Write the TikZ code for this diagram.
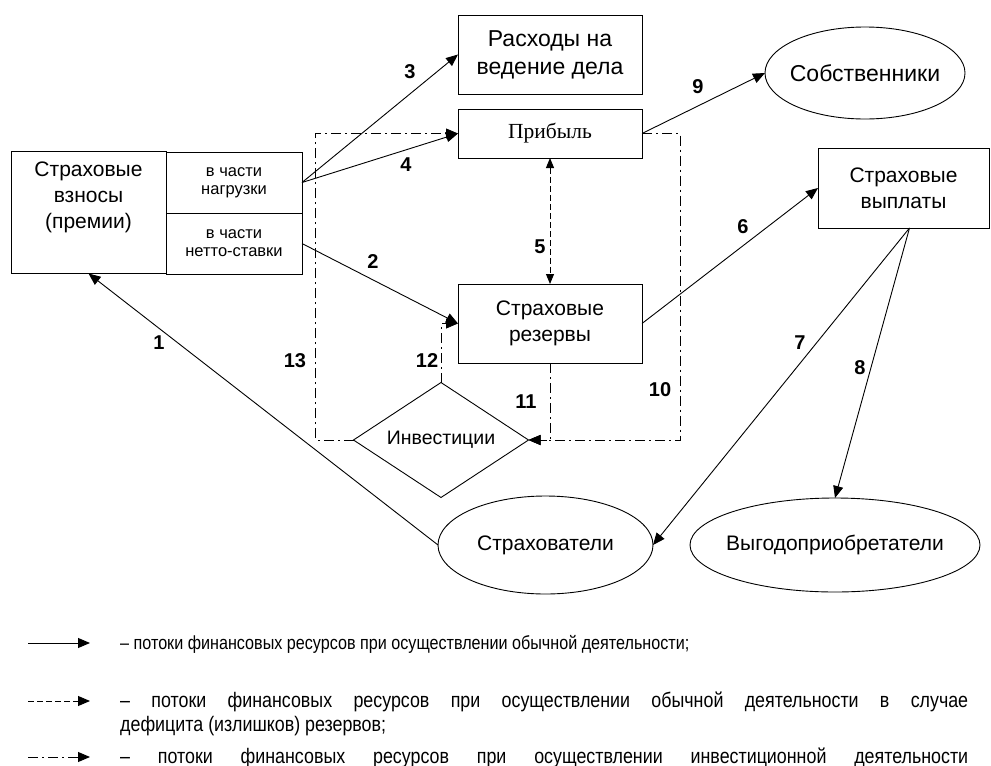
\documentclass[tikz,border=0pt]{standalone}
\usepackage{fontspec}
\setmainfont{Liberation Sans}
\newfontfamily\serifrm{Liberation Serif}
\newfontfamily\legfont{Liberation Sans}[FakeStretch=0.85]
\usetikzlibrary{shapes.geometric,arrows.meta}

\begin{document}
\begin{tikzpicture}[x=1pt,y=-1pt,
    blk/.style={draw,rectangle,inner sep=0pt,outer sep=0pt,line width=0.9pt},
    ell/.style={draw,ellipse,inner sep=0pt,inner xsep=-12pt,outer sep=0pt,line width=0.9pt},
    lbl/.style={font=\fontsize{21}{26}\selectfont,align=center},
    sml/.style={font=\fontsize{16.5}{18}\selectfont,align=center},
    num/.style={font=\bfseries\fontsize{20}{20}\selectfont,inner sep=0pt},
    arr/.style={-{Triangle[length=12pt,width=10pt]},line width=0.9pt},
    dd/.style={dash pattern=on 10pt off 4pt on 2pt off 4pt,line width=0.8pt}]
  \useasboundingbox (0,0) rectangle (991,766);
  \path
    (88.5,212.5) node[blk,minimum width=155pt,minimum height=122pt] (vznosy){}
    (234,182.5) node[blk,minimum width=136pt,minimum height=61pt,sml] (nagr){в части\\нагрузки}
    (234,243.5) node[blk,minimum width=136pt,minimum height=61pt,sml] (netto){в части\\нетто-ставки}
    (550,54.5) node[blk,minimum width=184pt,minimum height=79pt,lbl,font=\fontsize{23}{28}\selectfont] (rashody){Расходы на\\ведение дела}
    (550,133.5) node[blk,minimum width=184pt,minimum height=49pt,font=\serifrm\fontsize{21.5}{22}\selectfont] (pribyl){Прибыль}
    (550,323.5) node[blk,minimum width=184pt,minimum height=79pt,lbl] (rezervy){Страховые\\резервы}
    (903.5,188) node[blk,minimum width=171pt,minimum height=80pt,lbl] (vyplaty){Страховые\\выплаты}
    (865,73) node[ell,minimum width=200pt,minimum height=92pt,lbl,font=\fontsize{23}{26}\selectfont] (sobst){Собственники}
    (545.5,545) node[ell,minimum width=215pt,minimum height=98pt,lbl] (strakh){Страхователи}
    (835,545) node[ell,minimum width=290pt,minimum height=94pt,lbl] (vygodo){Выгодоприобретатели}
    (441,440) node[draw,diamond,aspect=1.52,minimum width=175pt,minimum height=115pt,
      inner sep=0pt,outer sep=0pt,line width=0.9pt,font=\fontsize{19.5}{20}\selectfont] (invest){Инвестиции};
  \node[lbl] (vznosytxt) at (88.5,197) {Страховые\\взносы\\(премии)};
  \coordinate (vypl) at ([xshift=6pt]vyplaty.south);
  % flows of ordinary activity
  \begin{scope}[arr]
    \draw (strakh.west) to (vznosy.south);
    \draw (netto.east) to (rezervy.west);
    \draw (nagr.east) to (rashody.west);
    \draw (nagr.east) to (pribyl.west);
    \draw (rezervy.east) to (vyplaty.west);
    \draw (vypl) to (strakh.east);
    \draw (vypl) to (vygodo.north);
    \draw (pribyl.east) to (sobst.west);
  \end{scope}
  \draw[{Triangle[length=10pt,width=8pt]}-{Triangle[length=10pt,width=8pt]},
    line width=0.9pt,dash pattern=on 6pt off 3pt] (pribyl.south) to (rezervy.north);
  % investment flows
  \begin{scope}[dd,-{Triangle[length=12pt,width=10pt]}]
    \draw (pribyl.east) -- ++(38,0) |- (invest.east);
    \draw (rezervy.south) |- (invest.east);
    \draw (invest.north) |- (rezervy.west);
    \draw (invest.west) -- ++(-38,0) |- (pribyl.west);
  \end{scope}
  \path
    (159,343) node[num] (n1){1}
    (373,262) node[num] (n2){2}
    (410,72) node[num] (n3){3}
    (406,165) node[num] (n4){4}
    (540,247) node[num] (n5){5}
    (743,227) node[num] (n6){6}
    (800,343) node[num] (n7){7}
    (860,368) node[num] (n8){8}
    (698,87) node[num] (n9){9}
    (660,390) node[num] (n10){10}
    (526,402) node[num] (n11){11}
    (427,361) node[num] (n12){12}
    (295,361) node[num] (n13){13};
  % legend
  \coordinate (la1) at (28,643); \coordinate (lb1) at (90,643);
  \coordinate (la2) at (28,701); \coordinate (lb2) at (90,701);
  \coordinate (la3) at (28,757); \coordinate (lb3) at (90,757);
  \draw[arr] (la1) -- (lb1);
  \draw[arr,dash pattern=on 6pt off 3pt] (la2) -- (lb2);
  \draw[arr,dash pattern=on 10pt off 4pt on 2pt off 4pt] (la3) -- (lb3);
  \node[anchor=base west,inner sep=0pt,font=\legfont\fontsize{19}{22}\selectfont] (leg1) at (120,649)
    {– потоки финансовых ресурсов при осуществлении обычной деятельности;};
  \node[anchor=base west,inner sep=0pt,font=\legfont\fontsize{21}{24}\selectfont] (leg2) at (120,707)
    {\makebox[848pt][s]{– потоки финансовых ресурсов при осуществлении обычной деятельности в случае}};
  \node[anchor=base west,inner sep=0pt,font=\legfont\fontsize{21}{24}\selectfont] (leg2b) at (120,731)
    {дефицита (излишков) резервов;};
  \node[anchor=base west,inner sep=0pt,font=\legfont\fontsize{21}{24}\selectfont] (leg3) at (120,763)
    {\makebox[848pt][s]{– потоки финансовых ресурсов при осуществлении инвестиционной деятельности}};
\end{tikzpicture}
\end{document}
